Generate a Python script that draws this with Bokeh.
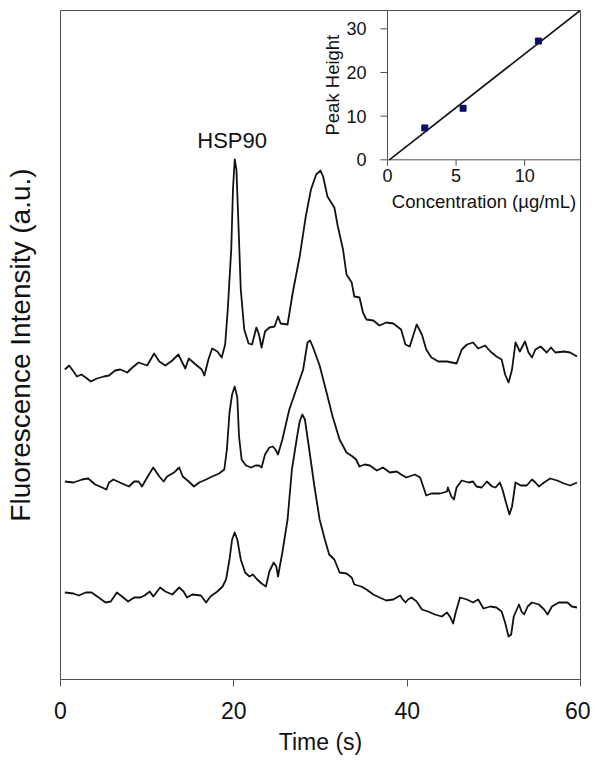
import numpy as np
from bokeh.plotting import figure
from bokeh.models import Range1d, FixedTicker
from bokeh.core.properties import value
from bokeh.embed import file_html
from bokeh.resources import INLINE

# ---------------- data ----------------
# Electropherogram traces (time in s, fluorescence in a.u.)
T1_TIME = [0.5, 1.0, 1.5, 1.9, 2.4, 2.9, 3.5, 4.2, 5.0, 5.6, 6.3, 6.9, 7.7, 8.3, 9.0, 10.0,
           10.8, 11.4, 12.1, 12.9, 13.6, 14.0, 14.4, 14.8, 15.6, 16.3, 16.6, 17.1, 17.5, 18.1,
           18.6, 19.0, 19.3, 19.7, 19.9, 20.1, 20.3, 20.5, 20.8, 21.2, 21.7, 22.1, 22.6, 22.9,
           23.2, 23.6, 24.1, 24.7, 25.1, 25.4, 26.2, 26.8, 27.6, 28.3, 28.9, 29.5, 30.0, 30.3,
           30.8, 31.6, 32.0, 32.6, 33.0, 33.6, 33.9, 34.5, 34.9, 35.3, 36.1, 36.8, 37.6, 38.4,
           39.3, 39.8, 40.3, 41.1, 41.7, 42.2, 42.8, 43.6, 44.6, 45.7, 46.3, 46.9, 47.6, 48.2,
           49.0, 49.6, 50.3, 50.9, 51.3, 51.7, 52.1, 52.5, 53.0, 53.6, 54.0, 54.4, 54.8, 55.4,
           56.1, 56.6, 57.1, 58.1, 58.8, 59.6]
T1_INT = [310, 314, 308, 303, 305, 302, 298, 301, 303, 304, 309, 310, 307, 312, 317, 314,
          326, 318, 314, 319, 325, 318, 311, 321, 315, 310, 304, 321, 331, 328,
          322, 335, 370, 430, 490, 520, 510, 463, 390, 350, 336, 335, 352, 345,
          332, 348, 352, 353, 363, 356, 355, 387, 423, 463, 490, 505, 509, 503,
          483, 472, 453, 430, 405, 397, 383, 382, 367, 360, 359, 354, 357, 356,
          350, 335, 333, 355, 345, 330, 322, 318, 318, 316, 330, 335, 337, 331,
          334, 328, 323, 320, 305, 297, 310, 337, 328, 338, 327, 322, 330, 333,
          327, 332, 327, 328, 327, 323]

T2_TIME = [0.5, 1.5, 2.5, 3.2, 4.0, 4.8, 5.3, 5.6, 6.1, 7.1, 7.9, 8.5, 9.0, 9.4, 10.0, 10.7,
           11.4, 11.9, 12.3, 13.1, 13.7, 14.1, 14.8, 15.4, 16.0, 16.8, 17.5, 18.3, 18.9, 19.2,
           19.5, 19.8, 20.1, 20.4, 20.6, 20.9, 21.4, 22.0, 22.5, 22.9, 23.2, 23.6, 24.1, 24.5,
           24.8, 25.1, 25.6, 26.4, 27.2, 28.0, 28.5, 28.8, 29.1, 29.9, 30.7, 31.4, 32.2, 33.0,
           33.7, 34.1, 34.5, 35.1, 35.7, 36.5, 37.2, 38.0, 38.8, 39.3, 39.9, 40.9, 41.5, 42.2,
           42.8, 43.8, 44.6, 44.7, 45.1, 45.4, 45.7, 46.3, 47.1, 47.6, 48.0, 48.6, 49.2, 49.8,
           50.2, 50.7, 51.0, 51.4, 51.8, 52.1, 52.5, 53.1, 53.8, 54.4, 54.8, 55.2, 55.8, 56.5,
           57.3, 58.1, 58.8, 59.6]
T2_INT = [198, 197, 200, 201, 195, 192, 190, 197, 200, 196, 193, 198, 198, 193, 202, 212,
          203, 198, 203, 207, 212, 203, 198, 193, 197, 200, 203, 206, 210, 230,
          267, 285, 293, 282, 243, 220, 214, 212, 214, 214, 212, 225, 232, 233,
          230, 225, 240, 270, 290, 310, 337, 339, 333, 314, 287, 263, 240, 227,
          223, 220, 213, 215, 214, 209, 212, 207, 208, 205, 202, 205, 202, 184,
          186, 186, 188, 192, 183, 180, 192, 199, 197, 198, 193, 192, 198, 193,
          192, 197, 190, 177, 165, 173, 197, 194, 194, 200, 197, 193, 197, 201,
          199, 196, 194, 197]

T3_TIME = [0.5, 1.5, 2.1, 2.9, 3.6, 4.4, 5.2, 5.8, 6.5, 7.1, 7.8, 8.5, 9.2, 9.7, 10.3, 10.7,
           11.5, 12.1, 12.9, 13.7, 14.2, 14.6, 15.2, 16.2, 16.8, 17.3, 18.1, 18.7, 19.1, 19.5,
           19.8, 20.1, 20.4, 20.8, 21.3, 21.8, 22.2, 22.7, 23.2, 23.7, 24.1, 24.6, 24.9, 25.1,
           25.3, 25.6, 26.2, 26.7, 27.3, 27.6, 27.9, 28.2, 28.7, 29.3, 29.9, 30.5, 31.0, 31.6,
           32.2, 33.0, 33.6, 33.9, 34.7, 35.3, 36.1, 36.8, 37.6, 38.4, 39.2, 39.5, 39.8, 40.1,
           40.5, 41.1, 41.7, 42.4, 43.2, 44.0, 44.6, 45.0, 45.3, 45.6, 46.1, 46.9, 47.6, 48.2,
           48.8, 49.6, 50.3, 50.9, 51.3, 51.7, 52.0, 52.3, 52.9, 53.2, 53.5, 53.9, 54.4, 55.2,
           55.8, 56.2, 56.7, 57.5, 58.5, 59.0, 59.6]
T3_INT = [87, 86, 84, 87, 87, 82, 77, 78, 87, 83, 78, 82, 82, 84, 88, 83,
          92, 88, 85, 92, 88, 82, 85, 84, 77, 83, 88, 93, 100, 120,
          140, 147, 140, 120, 107, 103, 105, 100, 96, 93, 108, 117, 113, 103,
          113, 127, 160, 210, 243, 258, 265, 260, 230, 193, 160, 140, 125, 120,
          107, 106, 102, 95, 93, 90, 85, 82, 79, 80, 84, 80, 77, 80,
          82, 78, 70, 68, 65, 63, 67, 62, 56, 67, 82, 80, 77, 80,
          71, 73, 72, 68, 57, 43, 45, 63, 75, 68, 65, 73, 77, 75,
          70, 65, 73, 77, 77, 73, 72]

X_TICKS = [0, 20, 40, 60]
PEAK_LABEL = "HSP90"

# Inset: calibration
CONC = [2.72, 5.51, 11.0]          # µg/mL
PEAK_HEIGHT = [7.3, 11.8, 27.2]
INSET_X_TICKS = [0, 5, 10]
INSET_Y_TICKS = [0, 10, 20, 30]

# ---------------- layout constants ----------------
FONT = "Liberation Sans"
W, H = 590, 764
BL, BR, BT, BB = 60, 10, 10, 85
FRAME_W = W - BL - BR
FRAME_H = H - BT - BB
Y_MAX = 669

INSET_LEFT = 327          # px from frame left to inset y-axis
INSET_BOTTOM = 519.7      # px from frame bottom to inset x-axis
IX1, IY1 = 14.07, 34.2    # inset extents (reach frame's right / top edges)
IX_PX = (FRAME_W - INSET_LEFT) / IX1
IY_PX = (FRAME_H - INSET_BOTTOM) / IY1
IX0 = -INSET_LEFT / IX_PX
IY0 = -INSET_BOTTOM / IY_PX

LINE_C = "#111111"
AX_C = "#505050"

p = figure(width=W, height=H, output_backend="svg", toolbar_location=None,
           x_range=Range1d(0, 60), y_range=Range1d(0, Y_MAX),
           min_border_left=BL, min_border_right=BR, min_border_top=BT, min_border_bottom=BB)
p.extra_x_ranges = {"ix": Range1d(IX0, IX1)}
p.extra_y_ranges = {"iy": Range1d(IY0, IY1)}

p.xgrid.visible = False
p.ygrid.visible = False
p.outline_line_color = AX_C
p.outline_line_width = 1
p.background_fill_color = "white"
p.border_fill_color = "white"

# x axis
p.xaxis.ticker = FixedTicker(ticks=X_TICKS)
p.xaxis.minor_tick_line_color = None
p.xaxis.major_tick_out = 7
p.xaxis.major_tick_in = 0
p.xaxis.axis_line_color = AX_C
p.xaxis.major_tick_line_color = AX_C
p.xaxis.major_label_text_font = FONT
p.xaxis.major_label_text_font_size = "23px"
p.xaxis.major_label_text_color = "#111111"
p.xaxis.major_label_standoff = 15
p.xaxis.axis_label = "Time (s)"
p.xaxis.axis_label_text_font = FONT
p.xaxis.axis_label_text_font_size = "23px"
p.xaxis.axis_label_text_font_style = "normal"
p.xaxis.axis_label_text_color = "#111111"
p.xaxis.axis_label_standoff = 7

# y axis (no ticks)
p.yaxis.ticker = FixedTicker(ticks=[])
p.yaxis.minor_tick_line_color = None
p.yaxis.major_tick_out = 0
p.yaxis.major_tick_in = 0
p.yaxis.major_label_standoff = 0
p.yaxis.axis_line_color = AX_C
p.yaxis.axis_label = "Fluorescence Intensity (a.u.)"
p.yaxis.axis_label_text_font = FONT
p.yaxis.axis_label_text_font_size = "28px"
p.yaxis.axis_label_text_font_style = "normal"
p.yaxis.axis_label_text_color = "#111111"
p.yaxis.axis_label_standoff = 25

# traces
for tx, ty in ((T1_TIME, T1_INT), (T2_TIME, T2_INT), (T3_TIME, T3_INT)):
    p.line(tx, ty, line_color=LINE_C, line_width=1.8, line_join="round")

# peak label above the HSP90 peak of the top trace
i_pk = int(np.argmax([v if t < 23 else -1 for t, v in zip(T1_TIME, T1_INT)]))
p.text(x=[T1_TIME[i_pk] - 0.3], y=[T1_INT[i_pk] + 19], text=[PEAK_LABEL],
       text_font=value(FONT), text_font_size=value("22px"), text_color="#111111",
       text_align="center", text_baseline="middle")

# ---------------- inset ----------------
R = dict(x_range_name="ix", y_range_name="iy")
# axis lines
p.segment(x0=[0, 0], y0=[0, 0], x1=[0, IX1], y1=[IY1, 0], line_color=AX_C, line_width=1, **R)
# ticks
tick_x = 7 / IX_PX
tick_y = 6 / IY_PX
p.segment(x0=[-tick_x] * len(INSET_Y_TICKS), y0=INSET_Y_TICKS,
          x1=[0] * len(INSET_Y_TICKS), y1=INSET_Y_TICKS, line_color=AX_C, line_width=1, **R)
p.segment(x0=INSET_X_TICKS, y0=[-tick_y] * len(INSET_X_TICKS),
          x1=INSET_X_TICKS, y1=[0] * len(INSET_X_TICKS), line_color=AX_C, line_width=1, **R)
# tick labels
p.text(x=[0] * len(INSET_Y_TICKS), y=INSET_Y_TICKS, text=[str(t) for t in INSET_Y_TICKS],
       x_offset=-21, text_align="right", text_baseline="middle",
       text_font=value(FONT), text_font_size=value("18px"), text_color="#111111", **R)
p.text(x=INSET_X_TICKS, y=[0] * len(INSET_X_TICKS), text=[str(t) for t in INSET_X_TICKS],
       y_offset=9, text_align="center", text_baseline="top",
       text_font=value(FONT), text_font_size=value("18px"), text_color="#111111", **R)
# axis titles
p.text(x=[0], y=[IY1 / 2], text=["Peak Height"], angle=np.pi / 2, x_offset=-55,
       text_align="center", text_baseline="middle",
       text_font=value(FONT), text_font_size=value("18.5px"), text_color="#111111", **R)
p.text(x=[IX1 / 2], y=[0], text=["Concentration (µg/mL)"], y_offset=42,
       text_align="center", text_baseline="middle",
       text_font=value(FONT), text_font_size=value("18.5px"), text_color="#111111", **R)

# linear fit
m, b = np.polyfit(CONC, PEAK_HEIGHT, 1)
fx0 = max(0.0, -b / m)
fx1 = min(IX1, (IY1 - b) / m)
p.line([fx0, fx1], [m * fx0 + b, m * fx1 + b], line_color=LINE_C, line_width=1.6, **R)
# data points
p.scatter(CONC, PEAK_HEIGHT, marker="square", size=6, fill_color="#0b0b6b",
          line_color="#0b0b6b", **R)

open("out.html", "w").write(file_html(p, INLINE))
